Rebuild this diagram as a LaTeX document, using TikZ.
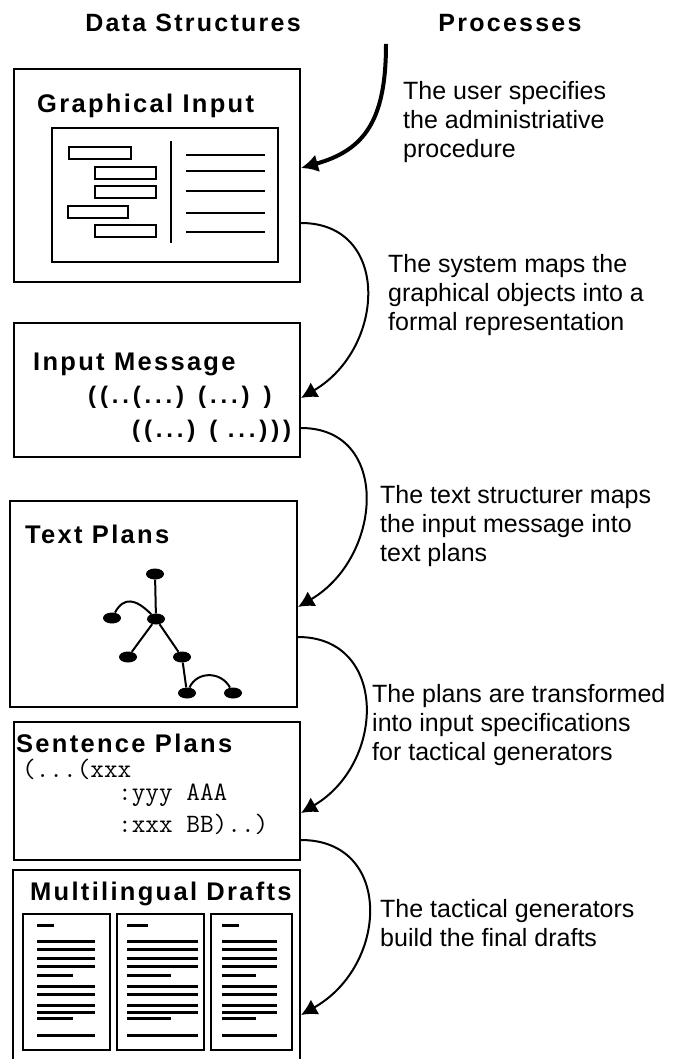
\documentclass[tikz,border=0pt]{standalone}
\usepackage{fontspec}
\setmainfont{Liberation Sans}
\newfontfamily\headfont{Liberation Sans}[LetterSpace=9]
\newfontfamily\parenfont{Liberation Sans}[LetterSpace=16]
\usetikzlibrary{arrows.meta,shapes.geometric}

\begin{document}
\begin{tikzpicture}
    [x=1pt, y=-1pt,
    box/.style={draw, line width=2pt, inner sep=0pt},
    head/.style={anchor=base, inner sep=0pt, font=\headfont\bfseries\fontsize{25}{29}\selectfont},
    title/.style={anchor=base west, inner sep=0pt, font=\headfont\bfseries\fontsize{25.5}{29}\selectfont},
    msg/.style={anchor=base west, inner sep=0pt, font=\parenfont\bfseries\fontsize{24}{28}\selectfont},
    proc/.style={anchor=north west, inner sep=0pt, align=left, font=\fontsize{25}{29}\selectfont},
    code/.style={anchor=base west, inner sep=0pt, font=\ttfamily\fontsize{26.5}{30}\selectfont},
    dot/.style={ellipse, fill=black, inner sep=0pt, minimum width=18pt, minimum height=11pt},
    flow/.style={line width=2pt, -{Latex[length=16pt,width=17pt]}},
    bar/.style={line width=2pt},
    txtline/.style={line width=3pt}]
    \useasboundingbox (0,0) rectangle (673,1059);
    \clip (0,0) rectangle (673,1059);

        %% Column heads
    \node[head] (DS) at (193,32) {Data Structures};
    \node[head] (PR) at (510,32) {Processes};

        %% Data structures
    \node[box, minimum width=286pt, minimum height=213pt] (G) at (157,175.5) {};
    \node[box, minimum width=286pt, minimum height=134pt] (M) at (157,390) {};
    \node[box, minimum width=287pt, minimum height=206pt] (T) at (153.5,604) {};
    \node[box, minimum width=286pt, minimum height=138pt] (S) at (157,791) {};
    \node[box, minimum width=287pt, minimum height=205pt] (D) at (156.5,972.5) {};

    \node[title] (G0) at (37,113) {Graphical Input};
    \node[title] (M0) at (33,370) {Input Message};
    \node[title] (T0) at (25,543) {Text Plans};
    \node[title] (S0) at (16,752) {Sentence Plans};
    \node[title] (D0) at (30,900) {Multilingual Drafts};

        %% Graphical input
    \node[box, minimum width=226pt, minimum height=134pt] (Gi) at (165,195) {};
    \foreach \bx/\by/\bw in {69/147/62, 95/167/61, 95/186/61, 68/206/60, 95/225/61}
        \draw[bar] (\bx,\by) rectangle +(\bw,12);
    \draw[line width=2.5pt] (171,141) -- (171,243);
    \foreach \ly in {155,171,191,213,232}
        \draw[bar] (186,\ly) -- +(79,0);

        %% Input message
    \node[msg] (M1) at (88,403) {((..(...) (...) )};
    \node[msg] (M2) at (132,437) {((...) ( ...)))};

        %% Text plans
    \node[dot] (t1) at (155,574) {};
    \node[dot] (t2) at (156,619) {};
    \node[dot] (t3) at (112,618) {};
    \node[dot] (t4) at (128,657) {};
    \node[dot] (t5) at (182,657) {};
    \node[dot] (t6) at (187,693) {};
    \node[dot] (t7) at (233,693) {};
    \draw[bar] (t1) -- (t2);
    \draw[bar] (t2) -- (t4);
    \draw[bar] (t2) -- (t5);
    \draw[bar] (t5) -- (t6);
    \draw[bar] (t3) .. controls +(12,-22) and +(-20,-20) .. (t2);
    \draw[bar] (t6) .. controls +(10,-22) and +(-12,-22) .. (t7);

        %% Sentence plans
    \node[code] (S1) at (22,777) {(...(xxx};
    \node[code] (S2) at (118,800) {:yyy AAA};
    \node[code] (S3) at (118,832) {:xxx BB)..)};

        %% Multilingual drafts
    \foreach \px/\pw/\lx/\ll in {23/87/37/58, 117/87/127/71, 211/81/222/55} {
        \draw[box] (\px,914) rectangle +(\pw,136);
        \draw[txtline] (\lx,925) -- +({0.3*\ll},0);
        \foreach \ly in {941,949,958,966,986,994,1005,1012,1035}
            \draw[txtline] (\lx,\ly) -- +(\ll,0);
        \foreach \ly in {975,1018}
            \draw[txtline] (\lx,\ly) -- +({0.62*\ll},0);
    }

        %% Processes
    \coordinate (U) at (386,44);
    \draw[line width=4pt, -{Latex[length=17pt,width=18pt]}] (U) .. controls (386,120) and (365,150) .. ([yshift=7.5pt]G.east);
    \draw[flow] ([yshift=-47.5pt]G.east) .. controls +(90,0) and +(85,-50) .. ([yshift=-8pt]M.east);
    \draw[flow] ([yshift=-38pt]M.east) .. controls +(90,0) and +(85,-50) .. ([yshift=-3pt]T.east);
    \draw[flow] ([yshift=-33pt]T.east) .. controls +(90,0) and +(85,-50) .. ([yshift=-22pt]S.east);
    \draw[flow] ([yshift=-49pt]S.east) .. controls +(92,0) and +(88,-50) .. ([yshift=-42.5pt]D.east);

    \node[proc] (P1) at (403,81) {The user specifies\\the administriative\\procedure};
    \node[proc] (P2) at (388,254) {The system maps the\\graphical objects into a\\formal representation};
    \node[proc] (P3) at (380,485) {The text structurer maps\\the input message into\\text plans};
    \node[proc] (P4) at (372,684) {The plans are transformed\\into input specifications\\for tactical generators};
    \node[proc] (P5) at (380,899) {The tactical generators\\build the final drafts};
\end{tikzpicture}
\end{document}
